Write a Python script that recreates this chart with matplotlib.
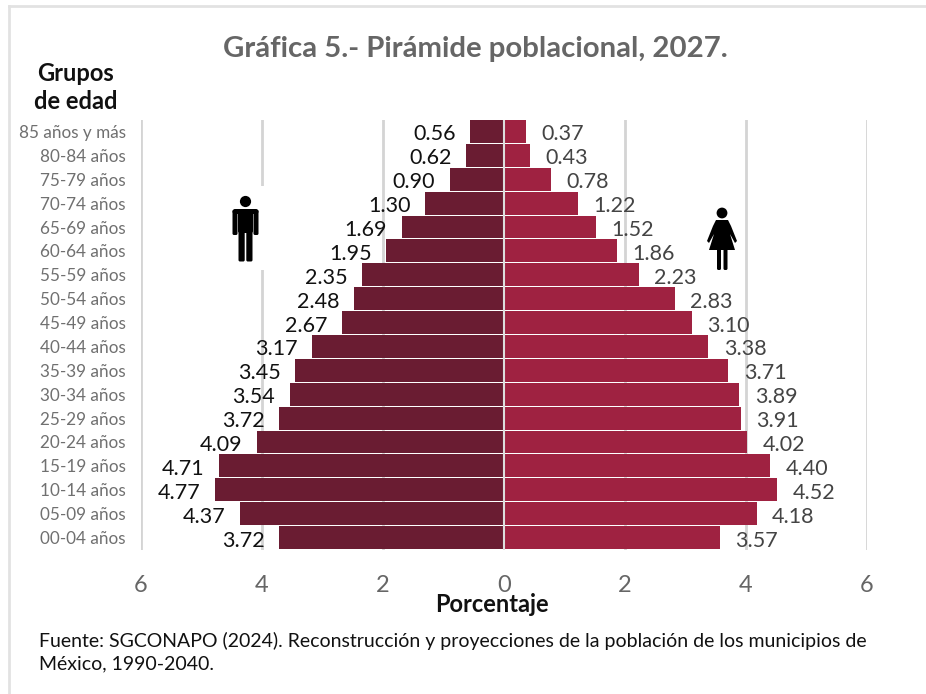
import matplotlib
matplotlib.use('Agg')
import matplotlib.pyplot as plt
from matplotlib.patches import Circle, FancyBboxPatch, Polygon, Rectangle
from matplotlib.transforms import Affine2D

plt.rcParams['font.family'] = 'Lato'

grupos = ['00-04 años', '05-09 años', '10-14 años', '15-19 años', '20-24 años', '25-29 años',
          '30-34 años', '35-39 años', '40-44 años', '45-49 años', '50-54 años', '55-59 años',
          '60-64 años', '65-69 años', '70-74 años', '75-79 años', '80-84 años', '85 años y más']
hombres = [3.72, 4.37, 4.77, 4.71, 4.09, 3.72, 3.54, 3.45, 3.17, 2.67, 2.48, 2.35, 1.95, 1.69, 1.30, 0.90, 0.62, 0.56]
mujeres = [3.57, 4.18, 4.52, 4.40, 4.02, 3.91, 3.89, 3.71, 3.38, 3.10, 2.83, 2.23, 1.86, 1.52, 1.22, 0.78, 0.43, 0.37]
ticks = [-6, -4, -2, 0, 2, 4, 6]

W, H = 926, 694
fig = plt.figure(figsize=(W / 100, H / 100), dpi=100)


def fx(px):
    return px / W


def fy(py):
    return 1 - py / H


ax = fig.add_axes([fx(141), fy(549.5), fx(867) - fx(141), fy(119.5) - fy(549.5)])
ax.set_xlim(-6, 6)
ax.set_ylim(-0.5, 17.5)

for t in ticks:
    if t != 0:
        ax.axvline(t, color='#d4d4d4', lw=2, zorder=1)

pos = range(len(grupos))
ax.barh(pos, [-v for v in hombres], height=0.96, color='#6a1c32', zorder=2)
ax.barh(pos, mujeres, height=0.96, color='#9f2241', zorder=2)
ax.axvline(0, color='#dddddd', lw=1.5, zorder=3)

for i in pos:
    ax.annotate('%.2f' % hombres[i], (-hombres[i], i), xytext=(-10.5, -2.2), textcoords='offset points',
                ha='right', va='center', fontsize=15.5, color='#111111', zorder=4)
    ax.annotate('%.2f' % mujeres[i], (mujeres[i], i), xytext=(11, -2.2), textcoords='offset points',
                ha='left', va='center', fontsize=15.5, color='#444444', zorder=4)

ax.set_yticks(list(pos))
ax.set_yticklabels(grupos, fontsize=12.3, color='#707070')
ax.set_xticks(ticks)
ax.set_xticklabels([str(abs(t)) for t in ticks], fontsize=17, color='#666666')
ax.tick_params(length=0)
ax.tick_params(axis='y', pad=11)
ax.tick_params(axis='x', pad=18)
for s in ax.spines.values():
    s.set_visible(False)

# marco
fig.add_artist(plt.Line2D([fx(9), fx(9)], [fy(6), 0], color='#e2e2e2', lw=2))
fig.add_artist(plt.Line2D([fx(9), 1], [fy(6), fy(6)], color='#e2e2e2', lw=2))

fig.text(fx(475), fy(49), 'Gráfica 5.- Pirámide poblacional, 2027.', ha='center', va='center',
         fontsize=21.2, fontweight='bold', color='#666666')
fig.text(fx(76), fy(87.5), 'Grupos\nde edad', ha='center', va='center', fontsize=17, fontweight='bold',
         color='#111111', linespacing=1.3)
fig.text(fx(492), fy(605), 'Porcentaje', ha='center', va='center', fontsize=17, fontweight='bold',
         color='#111111')
fig.text(fx(39), fy(652.5), 'Fuente: SGCONAPO (2024). Reconstrucción y proyecciones de la población de los municipios de\n'
         'México, 1990-2040.', ha='left', va='center', fontsize=14, color='#111111', linespacing=1.4)

# iconos en pixeles de la figura
px_trans = Affine2D().scale(1 / W, -1 / H).translate(0, 1) + fig.transFigure


def add_px(patch):
    patch.set_transform(px_trans)
    fig.add_artist(patch)


# hombre
add_px(Rectangle((226, 186), 38, 84, fc='white', ec='none', zorder=5))
add_px(Circle((245.5, 201.5), 5.6, fc='black', ec='none', zorder=6))
add_px(FancyBboxPatch((238, 211), 15, 22, boxstyle='round,pad=0,rounding_size=2', fc='black', ec='none', zorder=6))
add_px(FancyBboxPatch((232.5, 209), 26, 5, boxstyle='round,pad=0,rounding_size=2.5', fc='black', ec='none', zorder=6))
add_px(FancyBboxPatch((232.5, 210), 5, 25, boxstyle='round,pad=0,rounding_size=1.5', fc='black', ec='none', zorder=6))
add_px(FancyBboxPatch((253.5, 210), 5, 25, boxstyle='round,pad=0,rounding_size=1.5', fc='black', ec='none', zorder=6))
add_px(FancyBboxPatch((238.5, 230), 6.2, 31.5, boxstyle='round,pad=0,rounding_size=1.5', fc='black', ec='none', zorder=6))
add_px(FancyBboxPatch((246.3, 230), 6.2, 31.5, boxstyle='round,pad=0,rounding_size=1.5', fc='black', ec='none', zorder=6))

# mujer
add_px(Circle((722, 213), 5.4, fc='black', ec='none', zorder=6))
add_px(Polygon([(716, 220), (728, 220), (731, 226), (737, 241), (735, 243), (730, 234), (735, 250),
                (709, 250), (714, 234), (709, 243), (707, 241), (713, 226)], fc='black', ec='none', zorder=6))
add_px(FancyBboxPatch((717, 248), 4, 22, boxstyle='round,pad=0,rounding_size=1.5', fc='black', ec='none', zorder=6))
add_px(FancyBboxPatch((723.5, 248), 4, 22, boxstyle='round,pad=0,rounding_size=1.5', fc='black', ec='none', zorder=6))

fig.savefig('out.png', dpi=100, facecolor='white')
